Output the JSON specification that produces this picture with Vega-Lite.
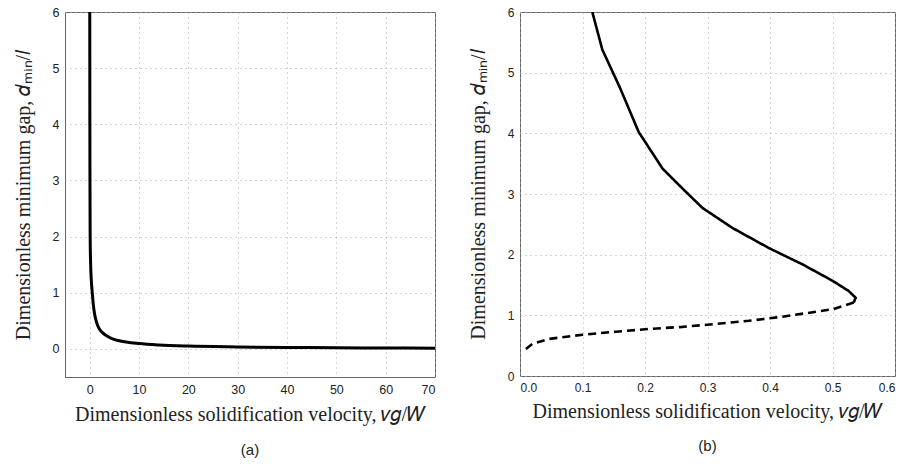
{
  "$schema": "https://vega.github.io/schema/vega-lite/v6.json",
  "background": "white",
  "padding": {"left": 12, "top": 5, "right": 2, "bottom": 2},
  "bounds": "flush",
  "spacing": 85,
  "config": {
    "view": {"stroke": "#666", "strokeWidth": 1},
    "axis": {"grid": true, "gridDash": [1, 4], "gridColor": "#aaa", "gridWidth": 1, "domain": false, "ticks": false, "labelFont": "Liberation Sans", "labelFontSize": 12.5, "labelColor": "#222", "labelPadding": 6, "titleFont": "Liberation Serif", "titleFontSize": 20, "titleFontWeight": "normal", "titleColor": "#222"},
    "title": {"font": "Liberation Sans", "fontSize": 15, "fontWeight": "normal", "color": "#222"}
  },
  "hconcat": [
    {
      "width": 370,
      "height": 365,
      "title": {"text": "(a)", "orient": "bottom", "offset": 18},
      "data": {"values": [
        {"i": 0, "v": 0.02, "d": 6.0},
        {"i": 1, "v": 0.04, "d": 4.0},
        {"i": 2, "v": 0.06, "d": 3.0},
        {"i": 3, "v": 0.1, "d": 2.0},
        {"i": 4, "v": 0.2, "d": 1.5},
        {"i": 5, "v": 0.35, "d": 1.2},
        {"i": 6, "v": 0.53, "d": 1.0},
        {"i": 7, "v": 0.75, "d": 0.78},
        {"i": 8, "v": 1.0, "d": 0.62},
        {"i": 9, "v": 1.25, "d": 0.52},
        {"i": 10, "v": 1.6, "d": 0.42},
        {"i": 11, "v": 2.0, "d": 0.35},
        {"i": 12, "v": 2.6, "d": 0.29},
        {"i": 13, "v": 3.5, "d": 0.23},
        {"i": 14, "v": 4.5, "d": 0.185},
        {"i": 15, "v": 6, "d": 0.145},
        {"i": 16, "v": 8, "d": 0.115},
        {"i": 17, "v": 10, "d": 0.095},
        {"i": 18, "v": 14, "d": 0.07},
        {"i": 19, "v": 20, "d": 0.05},
        {"i": 20, "v": 30, "d": 0.035},
        {"i": 21, "v": 40, "d": 0.026},
        {"i": 22, "v": 50, "d": 0.02},
        {"i": 23, "v": 60, "d": 0.016},
        {"i": 24, "v": 70, "d": 0.013}
      ]},
      "mark": {"type": "line", "color": "black", "strokeWidth": 3, "clip": true, "interpolate": "monotone"},
      "encoding": {
        "x": {"field": "v", "type": "quantitative", "scale": {"domain": [-5, 70], "nice": false, "zero": false}, "axis": {"values": [0, 10, 20, 30, 40, 50, 60, 70], "title": "Dimensionless solidification velocity, 𝑣𝑔/𝑊", "titleFont": "Liberation Serif", "titlePadding": 9}},
        "y": {"field": "d", "type": "quantitative", "scale": {"domain": [-0.5, 6], "nice": false, "zero": false}, "axis": {"values": [0, 1, 2, 3, 4, 5, 6], "title": "Dimensionless minimum gap, 𝑑ₘᵢₙ/𝑙", "titleFont": "Liberation Serif", "titlePadding": 19}},
        "order": {"field": "i", "type": "quantitative"}
      }
    },
    {
      "width": 375,
      "height": 364,
      "title": {"text": "(b)", "orient": "bottom", "offset": 18},
      "data": {"values": [
        {"i": 0, "branch": "stable", "v": 0.1157, "d": 6.0},
        {"i": 1, "branch": "stable", "v": 0.1317, "d": 5.38},
        {"i": 2, "branch": "stable", "v": 0.16, "d": 4.75},
        {"i": 3, "branch": "stable", "v": 0.19, "d": 4.02},
        {"i": 4, "branch": "stable", "v": 0.228, "d": 3.42},
        {"i": 5, "branch": "stable", "v": 0.26, "d": 3.09},
        {"i": 6, "branch": "stable", "v": 0.292, "d": 2.77},
        {"i": 7, "branch": "stable", "v": 0.34, "d": 2.44},
        {"i": 8, "branch": "stable", "v": 0.398, "d": 2.11},
        {"i": 9, "branch": "stable", "v": 0.452, "d": 1.84},
        {"i": 10, "branch": "stable", "v": 0.5, "d": 1.57},
        {"i": 11, "branch": "stable", "v": 0.526, "d": 1.4},
        {"i": 12, "branch": "stable", "v": 0.537, "d": 1.29},
        {"i": 13, "branch": "stable", "v": 0.534, "d": 1.21},
        {"i": 14, "branch": "unstable", "v": 0.534, "d": 1.21},
        {"i": 15, "branch": "unstable", "v": 0.5, "d": 1.1},
        {"i": 16, "branch": "unstable", "v": 0.42, "d": 0.977},
        {"i": 17, "branch": "unstable", "v": 0.366, "d": 0.91},
        {"i": 18, "branch": "unstable", "v": 0.313, "d": 0.857},
        {"i": 19, "branch": "unstable", "v": 0.26, "d": 0.81},
        {"i": 20, "branch": "unstable", "v": 0.206, "d": 0.775},
        {"i": 21, "branch": "unstable", "v": 0.153, "d": 0.73},
        {"i": 22, "branch": "unstable", "v": 0.1, "d": 0.68},
        {"i": 23, "branch": "unstable", "v": 0.046, "d": 0.61},
        {"i": 24, "branch": "unstable", "v": 0.02, "d": 0.53},
        {"i": 25, "branch": "unstable", "v": 0.006, "d": 0.42}
      ]},
      "mark": {"type": "line", "color": "black", "strokeWidth": 2.6, "clip": true},
      "encoding": {
        "x": {"field": "v", "type": "quantitative", "scale": {"domain": [0, 0.6], "nice": false}, "axis": {"values": [0, 0.1, 0.2, 0.3, 0.4, 0.5, 0.6], "labelFontSize": 12, "title": "Dimensionless solidification velocity, 𝑣𝑔/𝑊", "titleFont": "Liberation Serif", "titlePadding": 8}},
        "y": {"field": "d", "type": "quantitative", "scale": {"domain": [0, 6], "nice": false}, "axis": {"values": [0, 1, 2, 3, 4, 5, 6], "labelFontSize": 12, "title": "Dimensionless minimum gap, 𝑑ₘᵢₙ/𝑙", "titleFont": "Liberation Serif", "titlePadding": 19}},
        "strokeDash": {"field": "branch", "type": "nominal", "scale": {"domain": ["stable", "unstable"], "range": [[1, 0], [8, 5]]}, "legend": null},
        "order": {"field": "i", "type": "quantitative"}
      }
    }
  ]
}
